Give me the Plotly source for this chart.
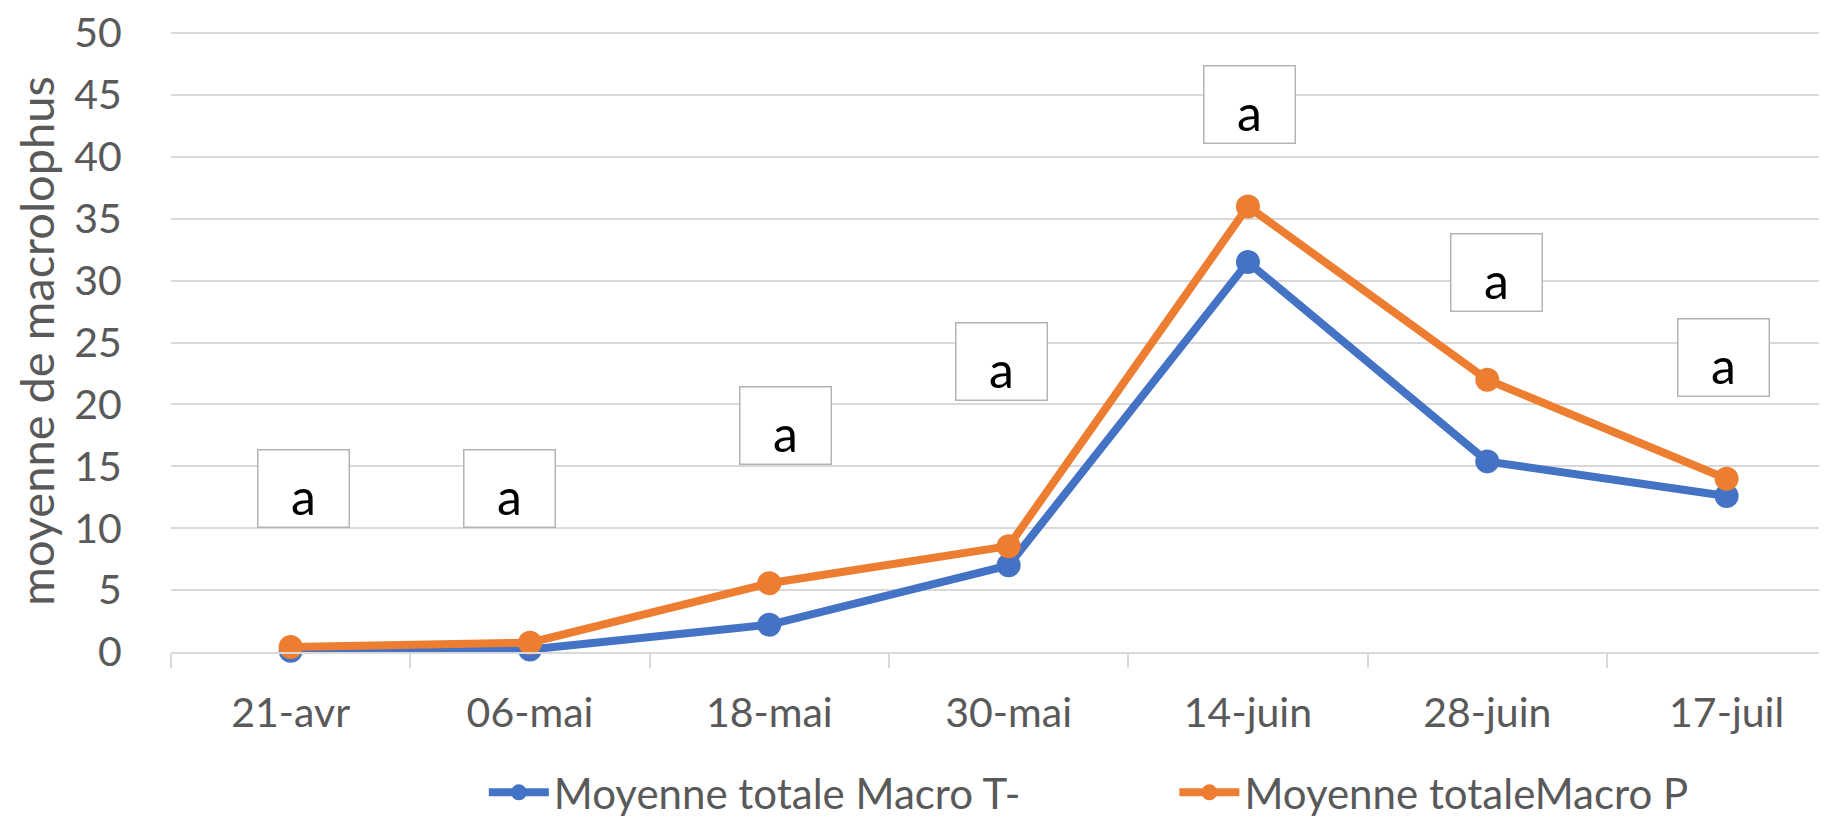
import plotly.graph_objects as go

# ---- data ----
dates = ["21-avr", "06-mai", "18-mai", "30-mai", "14-juin", "28-juin", "17-juil"]
macro_t = [0.1, 0.2, 2.2, 7.0, 31.5, 15.4, 12.6]
macro_p = [0.4, 0.75, 5.55, 8.55, 36.0, 22.0, 14.0]
letters = ["a", "a", "a", "a", "a", "a", "a"]
letter_box_y = [13.2, 13.2, 18.3, 23.5, 44.2, 30.65, 23.8]
letter_box_dx = [0.055, -0.085, 0.068, -0.03, 0.006, 0.04, -0.014]
y_ticks = [0, 5, 10, 15, 20, 25, 30, 35, 40, 45, 50]

name_t = "Moyenne totale Macro T-"
name_p = "Moyenne totaleMacro P"

BLUE = "#4472C4"
ORANGE = "#ED7D31"
GRID = "#d9d9d9"
TXT = "#595959"
FONT = "Lato"

fig = go.Figure()
fig.add_trace(go.Scatter(
    x=dates, y=macro_t, name=name_t, mode="lines+markers",
    line=dict(color=BLUE, width=8), marker=dict(color=BLUE, size=24),
    cliponaxis=False, legend="legend",
))
fig.add_trace(go.Scatter(
    x=dates, y=macro_p, name=name_p, mode="lines+markers",
    line=dict(color=ORANGE, width=8), marker=dict(color=ORANGE, size=24),
    cliponaxis=False, legend="legend2",
))

for i, (lab, yv, dx) in enumerate(zip(letters, letter_box_y, letter_box_dx)):
    fig.add_annotation(
        x=i + dx, y=yv, xref="x", yref="y", text=lab, showarrow=False,
        xanchor="center", yanchor="middle",
        width=88, height=74, valign="bottom", align="center",
        borderpad=1, bordercolor="#b4b4b4", borderwidth=1.5,
        bgcolor="white", font=dict(family=FONT, size=50, color="black"),
    )

leg_common = dict(
    orientation="h", xanchor="left", y=-0.226, yanchor="middle",
    font=dict(family=FONT, size=42, color=TXT),
    itemwidth=60, bgcolor="rgba(0,0,0,0)",
)

fig.update_layout(
    width=1827, height=819,
    margin=dict(l=163, r=0, t=22, b=161, pad=0),
    paper_bgcolor="white", plot_bgcolor="white",
    font=dict(family=FONT, color=TXT),
    showlegend=True,
    legend=dict(x=0.188, **leg_common),
    legend2=dict(x=0.603, **leg_common),
)
fig.update_xaxes(
    type="category", range=[-0.5, 6.453],
    showgrid=False, showline=True, linecolor=GRID, linewidth=1.5,
    ticks="outside", tickson="boundaries", ticklen=14, tickcolor=GRID, tickwidth=1.5,
    tickfont=dict(family=FONT, size=41, color=TXT),
    ticklabelstandoff=24, automargin=False,
)
fig.update_yaxes(
    range=[0, 50.25], tickmode="array", tickvals=y_ticks,
    showgrid=True, gridcolor=GRID, gridwidth=1.5,
    zeroline=False, showline=False,
    ticks="outside", ticklen=40, tickcolor="rgba(0,0,0,0)",
    tickfont=dict(family=FONT, size=41, color=TXT),
    ticklabeloverflow="allow",
    title=dict(text="moyenne de macrolophus", font=dict(family=FONT, size=47, color=TXT), standoff=10),
    automargin=False,
)

fig.write_html("out.html")
